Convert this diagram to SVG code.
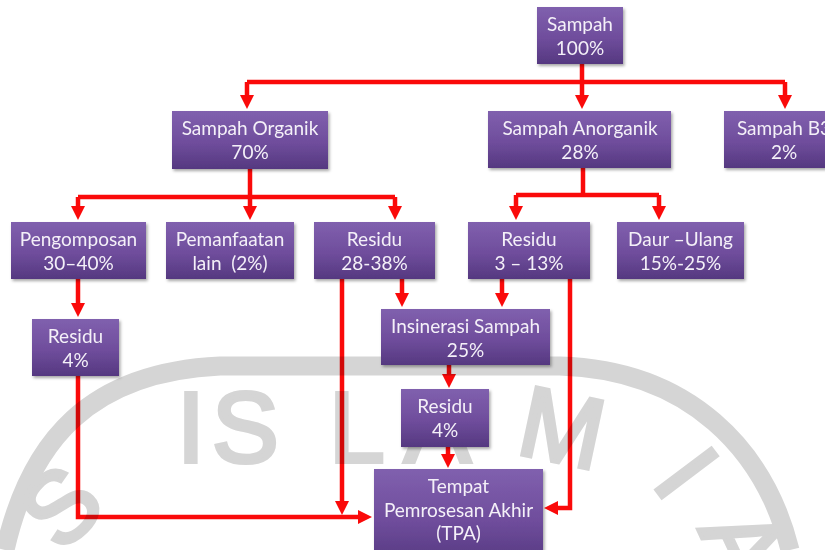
<svg xmlns="http://www.w3.org/2000/svg" width="825" height="550" viewBox="0 0 825 550">
<defs>
<linearGradient id="pg" x1="0" y1="0" x2="0" y2="1">
<stop offset="0" stop-color="#8060ae"/>
<stop offset="0.55" stop-color="#6f4d9c"/>
<stop offset="1" stop-color="#553880"/>
</linearGradient>
<filter id="sh" x="-10%" y="-10%" width="130%" height="140%">
<feDropShadow dx="1.5" dy="2" stdDeviation="1.5" flood-color="#000" flood-opacity="0.35"/>
</filter>
<marker id="ah" viewBox="0 0 14 14" refX="4" refY="7" markerWidth="14" markerHeight="14" markerUnits="userSpaceOnUse" orient="auto">
<path d="M0,0 L14,7 L0,14 z" fill="#fa0a0a"/>
</marker>
</defs>
<style>
.box{fill:url(#pg);filter:url(#sh)}
.t{font-family:Lato,"Open Sans","Liberation Sans",sans-serif;font-size:19px;fill:#f4f0f8;text-anchor:middle}
.c{fill:none;stroke:#fa0a0a;stroke-width:4.5;stroke-linejoin:miter}
.a{marker-end:url(#ah)}
.wm{fill:#d5d5d5;stroke:#d5d5d5;stroke-width:4;font-family:"Liberation Sans",Arial,sans-serif;font-size:100px}
</style>
<rect width="825" height="550" fill="#ffffff"/>

<g id="connectors">
<path class="c" d="M582,64 V82"/>
<path class="c" d="M247,82 H785"/>
<path class="c a" d="M247,82 V99"/>
<path class="c a" d="M582,82 V99"/>
<path class="c a" d="M785,82 V99"/>
<path class="c" d="M250,169 V197"/>
<path class="c" d="M78,197 H395"/>
<path class="c a" d="M78,197 V210"/>
<path class="c a" d="M250,197 V210"/>
<path class="c a" d="M395,197 V210"/>
<path class="c" d="M583,168 V195"/>
<path class="c" d="M516,195 H659"/>
<path class="c a" d="M516,195 V210"/>
<path class="c a" d="M659,195 V210"/>
<path class="c a" d="M78,279 V307"/>
<path class="c a" d="M402,279 V297"/>
<path class="c a" d="M502,279 V297"/>
<path class="c a" d="M342,279 V505"/>
<path class="c a" d="M78,376 V517 H362"/>
<path class="c a" d="M570,279 V508 H554"/>
<path class="c a" d="M449,365 V378"/>
<path class="c a" d="M448,447 V458"/>
</g>

<g id="watermark" style="mix-blend-mode:multiply">
<path d="M5,550 C30,440 90,372 220,366 L560,366 C690,370 765,450 790,550" fill="none" stroke="#d5d5d5" stroke-width="19"/>
<text class="wm" x="177" y="462">I</text>
<text class="wm" x="212" y="462">S</text>
<text class="wm" x="329" y="462">L</text>
<text class="wm" x="404" y="462">A</text>
<text class="wm" x="520" y="462" transform="rotate(12 560 430)">M</text>
<text class="wm" x="0" y="0" transform="translate(60 505) rotate(-45) translate(-34 36)">S</text>
<text class="wm" x="0" y="0" transform="translate(688 472) rotate(53) translate(-14 36)">I</text>
<text class="wm" x="0" y="0" transform="translate(745 545) rotate(65) translate(-34 36)">A</text>
</g>

<g id="n-sampah"><rect class="box" x="537" y="7" width="86" height="57"/><text class="t" x="580" y="31">Sampah</text><text class="t" x="580" y="55">100%</text></g>
<g id="n-organik"><rect class="box" x="172" y="111" width="156" height="58"/><text class="t" x="250" y="135">Sampah Organik</text><text class="t" x="250" y="159">70%</text></g>
<g id="n-anorganik"><rect class="box" x="488" y="111" width="183" height="57"/><text class="t" x="580" y="135">Sampah Anorganik</text><text class="t" x="580" y="159">28%</text></g>
<g id="n-b3"><rect class="box" x="724" y="111" width="120" height="57"/><text class="t" x="784" y="135">Sampah B3</text><text class="t" x="784" y="159">2%</text></g>
<g id="n-pengomposan"><rect class="box" x="11" y="222" width="135" height="57"/><text class="t" x="78.5" y="246">Pengomposan</text><text class="t" x="78.5" y="270">30–40%</text></g>
<g id="n-pemanfaatan"><rect class="box" x="166" y="222" width="128" height="57"/><text class="t" x="230" y="246">Pemanfaatan</text><text class="t" x="230" y="270" style="white-space:pre">lain  (2%)</text></g>
<g id="n-residu-org"><rect class="box" x="314" y="222" width="121" height="57"/><text class="t" x="374.5" y="246">Residu</text><text class="t" x="374.5" y="270">28-38%</text></g>
<g id="n-residu-anorg"><rect class="box" x="468" y="222" width="122" height="57"/><text class="t" x="529" y="246">Residu</text><text class="t" x="529" y="270">3 – 13%</text></g>
<g id="n-daur"><rect class="box" x="617" y="222" width="127" height="57"/><text class="t" x="680.5" y="246">Daur –Ulang</text><text class="t" x="680.5" y="270">15%-25%</text></g>
<g id="n-residu-komp"><rect class="box" x="32" y="319" width="87" height="57"/><text class="t" x="75.5" y="343">Residu</text><text class="t" x="75.5" y="367">4%</text></g>
<g id="n-insinerasi"><rect class="box" x="381" y="309" width="169" height="56"/><text class="t" x="465.5" y="333">Insinerasi Sampah</text><text class="t" x="465.5" y="357">25%</text></g>
<g id="n-residu-ins"><rect class="box" x="401" y="389" width="88" height="58"/><text class="t" x="445" y="413">Residu</text><text class="t" x="445" y="437">4%</text></g>
<g id="n-tpa"><rect class="box" x="374" y="469" width="169" height="95"/><text class="t" x="458.5" y="493">Tempat</text><text class="t" x="458.5" y="517">Pemrosesan Akhir</text><text class="t" x="458.5" y="540">(TPA)</text></g>
</svg>
